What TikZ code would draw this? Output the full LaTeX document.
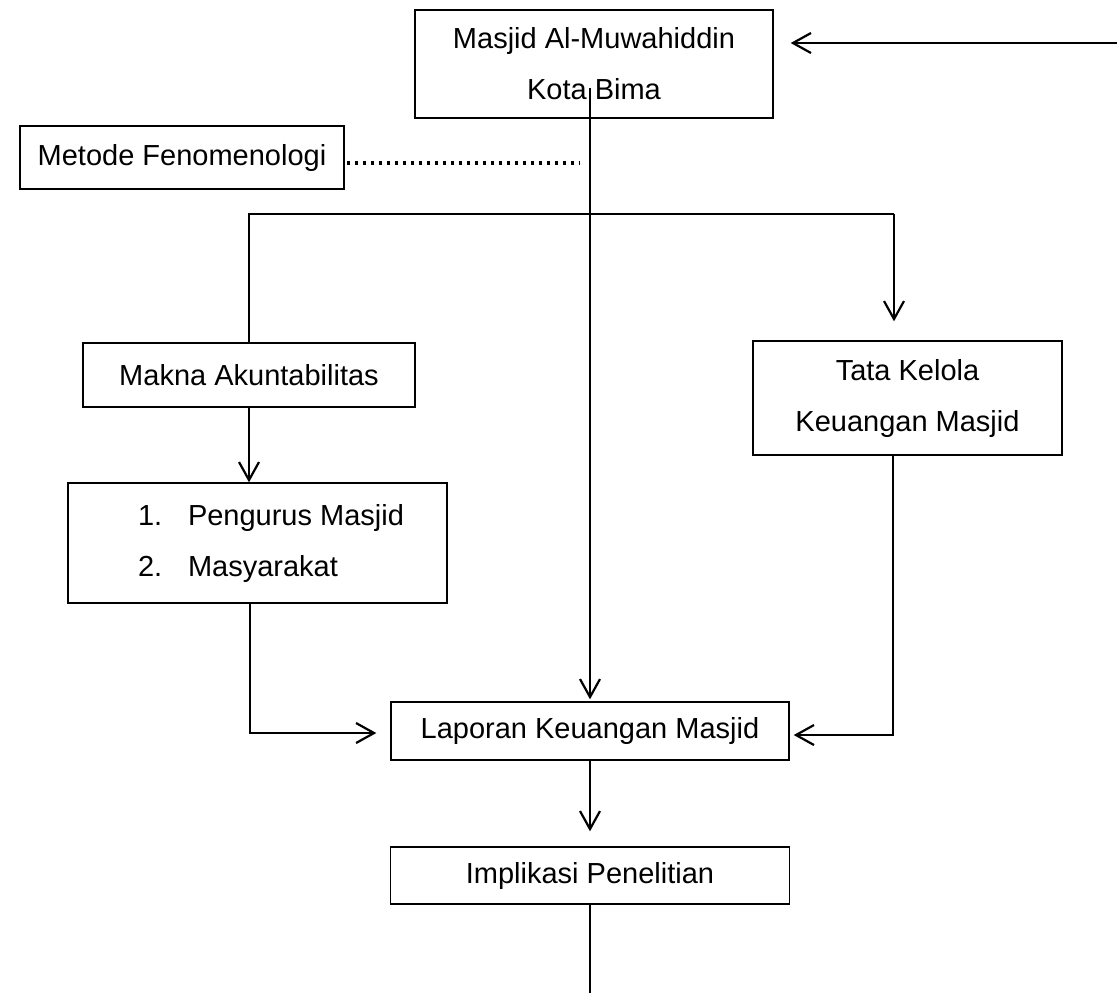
\documentclass[tikz,border=0pt]{standalone}
\usepackage{fontspec}
\setmainfont{Liberation Sans}
\usetikzlibrary{arrows.meta}
\begin{document}
\begin{tikzpicture}[x=0.5pt,y=-0.5pt,
  box/.style={draw, line width=0.7pt, inner sep=0pt, align=center,
    font=\fontsize{14.5pt}{25.5pt}\selectfont},
  conn/.style={line width=1.1pt},
  arr/.style={conn, -{Straight Barb[length=9pt,width=10pt]}},
  dotline/.style={line width=1.8pt, dash pattern=on 1.8pt off 2.2pt}]
\useasboundingbox (0,0) rectangle (1117,993);

\node[box, minimum width=179pt, minimum height=54pt] (top) at (594,64)
  {Masjid Al-Muwahiddin\\Kota Bima};
\node[box, minimum width=162pt, minimum height=31.5pt] (metode) at (182,157.5)
  {Metode Fenomenologi};
\node[box, minimum width=166pt, minimum height=32pt] (makna) at (249,375)
  {Makna Akuntabilitas};
\node[box, minimum width=154.5pt, minimum height=57pt] (tata) at (907.5,398)
  {Tata Kelola\\Keuangan Masjid};
\node[box, align=left, minimum width=189.5pt, minimum height=60pt] (pengurus) at (257.5,543)
  {\hspace*{13.5pt}\makebox[25pt][l]{1.}Pengurus Masjid\\\hspace*{13.5pt}\makebox[25pt][l]{2.}Masyarakat};
\node[box, minimum width=199pt, minimum height=29pt] (laporan) at (590,731)
  {Laporan Keuangan Masjid};
\node[box, minimum width=199.5pt, minimum height=28.5pt] (implikasi) at (590,875.5)
  {Implikasi Penelitian};

\coordinate (rin) at (1117,43);
\coordinate (cstart) at (590,88);
\coordinate (dotend) at (579,163);
\coordinate (bR) at (894,214);
\coordinate (lL) at (250,733);
\coordinate (lR) at (893,735);
\coordinate (bot) at (590,993);

\draw[arr, shorten >=8.5pt] (rin) -- (top.east |- rin);
\draw[arr, shorten >=1pt] (cstart) -- (laporan.north -| cstart);
\draw[dotline] (metode.east |- dotend) ++(2,0) -- (dotend);
\draw[conn] (makna.north) |- (bR);
\draw[arr, shorten >=9.5pt] (bR) -- (tata.north -| bR);
\draw[arr] (makna.south) -- (makna.south |- pengurus.north);
\draw[arr, shorten >=7pt] (pengurus.south -| lL) |- (laporan.west |- lL);
\draw[arr, shorten >=2pt] (tata.south -| lR) |- (laporan.east |- lR);
\draw[arr, shorten >=7.5pt] (laporan.south) -- (implikasi.north);
\draw[conn] (implikasi.south) -- (bot);
\end{tikzpicture}
\end{document}
